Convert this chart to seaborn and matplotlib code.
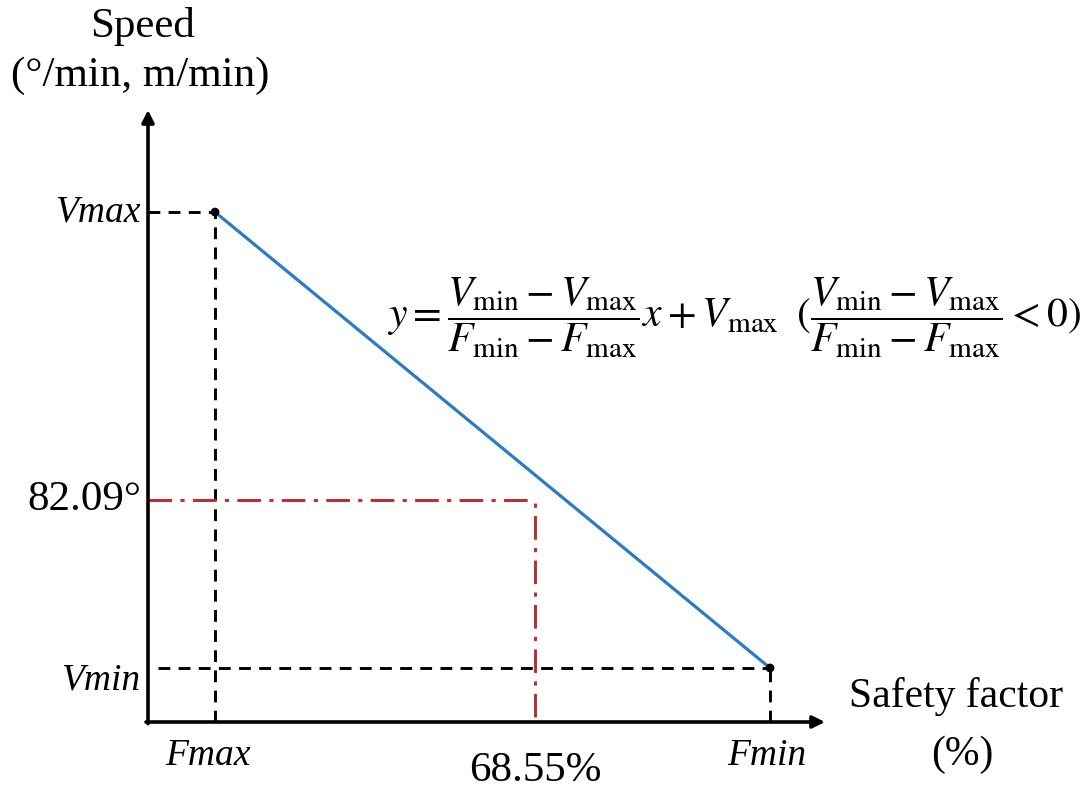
import numpy as np
import pandas as pd
import matplotlib
matplotlib.use("Agg")
import matplotlib.pyplot as plt
import seaborn as sns

# Conceptual positions (axis units) of the schematic
f_max = 1.0
f_min = 9.28
v_max = 9.44
v_min = 1.0
sel_x = 5.78      # 68.55 %
sel_y = 4.11      # 82.09 deg
x_end = 10.1
y_end = 11.33

line_x = [f_max, f_min]
line_y = [v_max, v_min]

sel_x_label = "68.55%"
sel_y_label = "82.09°"

sns.set_theme(style="white")
plt.rcParams['font.family'] = ['Liberation Serif', 'DejaVu Serif']
plt.rcParams['mathtext.fontset'] = 'stix'
plt.rcParams['lines.scale_dashes'] = False
plt.rcParams['text.color'] = 'black'

W, H = 1086, 788
fig = plt.figure(figsize=(W / 100, H / 100), dpi=100)
fig.patch.set_facecolor('white')

# axes box: origin at pixel (148, 722), arrows end at (825, 110)
ax = fig.add_axes([148 / W, (H - 722) / H, (825 - 148) / W, (722 - 110) / H])
ax.set_xlim(0, x_end)
ax.set_ylim(0, y_end)
ax.axis('off')

df = pd.DataFrame({'x': line_x, 'y': line_y})
sns.lineplot(data=df, x='x', y='y', ax=ax, color='#2b7bc6', lw=2.3, legend=False)
sns.scatterplot(data=df, x='x', y='y', ax=ax, color='black', s=40, zorder=5,
                edgecolor='none', legend=False)

dash = dict(color='black', lw=2.1, dashes=(8.5, 6), clip_on=False)
ax.plot([0, f_max], [v_max, v_max], **dash)
ax.plot([f_max, f_max], [0, v_max], **dash)
ax.plot([0.15, f_min], [v_min, v_min], **dash)
ax.plot([f_min, f_min], [0, v_min], **dash)

red = dict(color='#c1272d', lw=2.1, dashes=(17, 6, 3, 6), clip_on=False)
ax.plot([0, sel_x], [sel_y, sel_y], **red)
ax.plot([sel_x, sel_x], [0.1, sel_y], **red)

# axes with arrows
arrow = dict(arrowstyle='-|>', color='black', lw=2.6, mutation_scale=18,
             shrinkA=0, shrinkB=0)
ax.annotate('', xy=(x_end, 0), xytext=(-0.03, 0), arrowprops=arrow,
            annotation_clip=False)
ax.annotate('', xy=(0, y_end), xytext=(0, -0.03), arrowprops=arrow,
            annotation_clip=False)

# tick-like labels
ital = dict(fontstyle='italic', fontsize=27, color='black')
ax.text(-0.12, v_max, 'Vmax', ha='right', va='center', **ital)
ax.text(-0.12, v_min - 0.22, 'Vmin', ha='right', va='center', **ital)
ax.text(f_max - 0.1, -0.62, 'Fmax', ha='center', va='center', **ital)
ax.text(f_min - 0.05, -0.62, 'Fmin', ha='center', va='center', **ital)
ax.text(-0.1, sel_y, sel_y_label, ha='right', va='center', fontsize=31)
ax.text(sel_x, -0.9, sel_x_label, ha='center', va='center', fontsize=31)

# axis titles
fig.text(143 / W, 1 - 27 / H, 'Speed', ha='center', va='center', fontsize=31)
fig.text(140 / W, 1 - 76 / H, '(°/min, m/min)', ha='center', va='center', fontsize=31)
fig.text(956 / W, 1 - 697 / H, 'Safety factor', ha='center', va='center', fontsize=30)
fig.text(962 / W, 1 - 755 / H, '(%)', ha='center', va='center', fontsize=30)

eq = (r'$y=\dfrac{V_{\mathrm{min}}-V_{\mathrm{max}}}{F_{\mathrm{min}}-F_{\mathrm{max}}}'
      r'x+V_{\mathrm{max}}\;\;(\dfrac{V_{\mathrm{min}}-V_{\mathrm{max}}}'
      r'{F_{\mathrm{min}}-F_{\mathrm{max}}}<0)$')
fig.text(734 / W, 1 - 318 / H, eq, ha='center', va='center', fontsize=30)

fig.savefig('out.png', dpi=100, facecolor='white')
